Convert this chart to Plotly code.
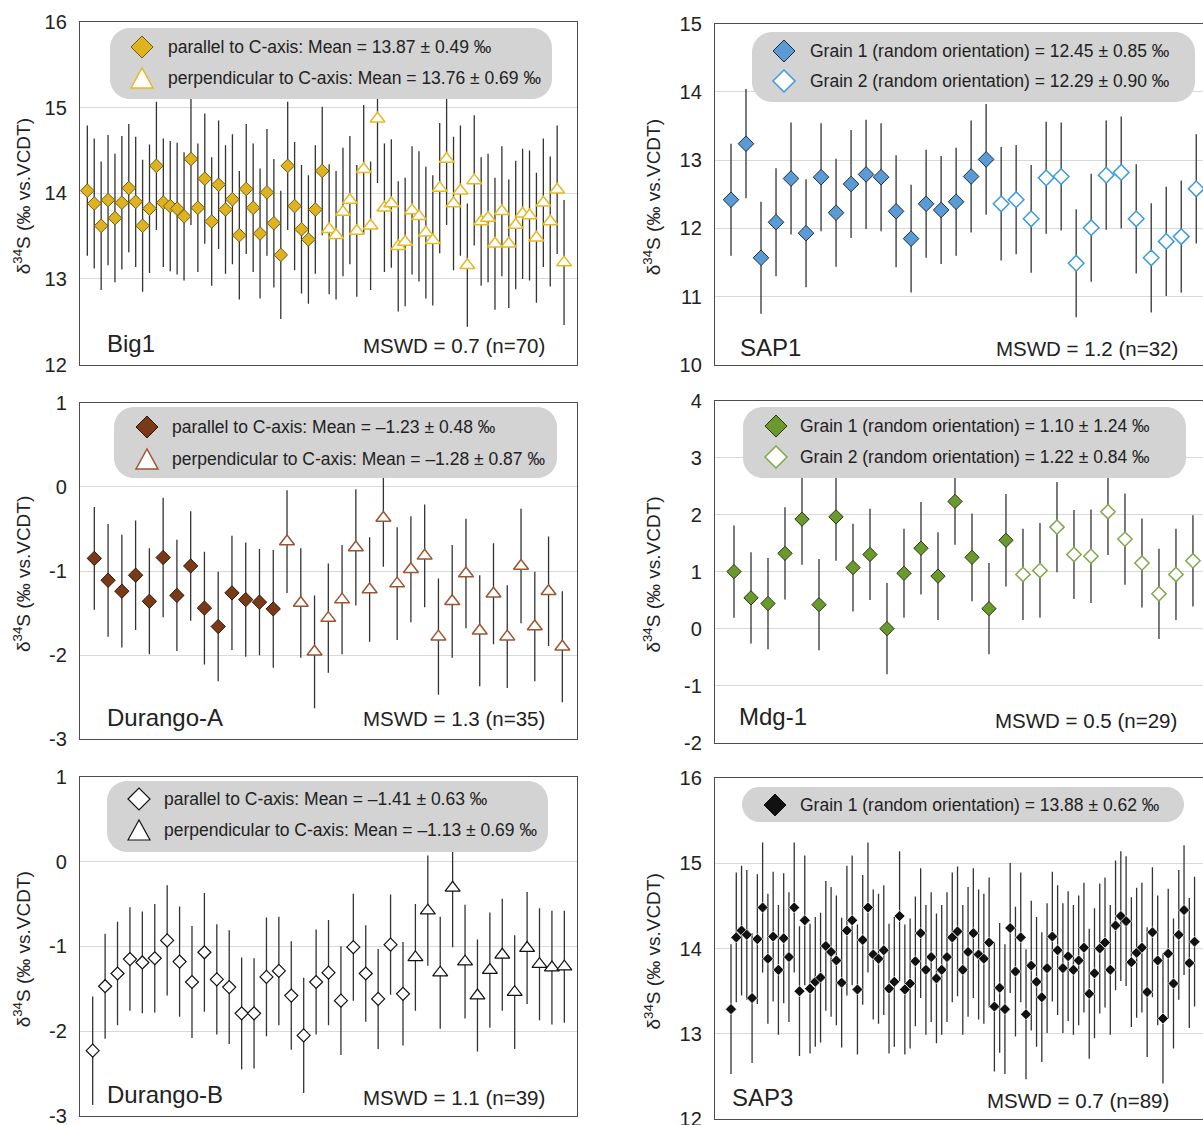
import plotly.graph_objects as go

W, H = 1203, 1125
FONT = "Liberation Sans, Arial, sans-serif"
TXT = "#222222"

# ---------------- data: delta34S per analysis (permil vs. VCDT) ----------------
# Big1
big1_parallel = [14.03, 13.88, 13.62, 13.92, 13.71, 13.89, 14.06, 13.90, 13.62, 13.82,
                 14.32, 13.89, 13.85, 13.82, 13.73, 14.40, 13.83, 14.17, 13.67, 14.10,
                 13.81, 13.93, 13.51, 14.05, 13.83, 13.53, 14.01, 13.65, 13.28, 14.32,
                 13.85, 13.58, 13.46, 13.81, 14.26]
big1_parallel_err = [0.76, 0.76, 0.75, 0.76, 0.75, 0.78, 0.75, 0.76, 0.77, 0.75,
                     0.75, 0.75, 0.76, 0.77, 0.75, 0.77, 0.75, 0.76, 0.75, 0.75,
                     0.75, 0.76, 0.75, 0.76, 0.75, 0.76, 0.74, 0.75, 0.75, 0.75,
                     0.75, 0.75, 0.75, 0.75, 0.75]
big1_perpendicular = [13.58, 13.51, 13.78, 13.92, 13.56, 14.28, 13.62, 14.87, 13.83, 13.88,
                      13.38, 13.43, 13.80, 13.73, 13.54, 13.45, 14.06, 14.40, 13.88, 14.03,
                      13.16, 14.15, 13.67, 13.71, 13.41, 13.79, 13.41, 13.63, 13.76, 13.74,
                      13.48, 13.89, 13.67, 14.04, 13.19]
big1_perpendicular_err = [0.76, 0.75, 0.75, 0.75, 0.77, 0.75, 0.75, 0.75, 0.75, 0.75,
                          0.76, 0.75, 0.75, 0.76, 0.77, 0.76, 0.76, 0.77, 0.78, 0.76,
                          0.72, 0.76, 0.75, 0.75, 0.77, 0.76, 0.75, 0.75, 0.76, 0.76,
                          0.76, 0.75, 0.76, 0.75, 0.73]
big1_legend = ["parallel to C-axis: Mean = 13.87 ± 0.49 ‰",
               "perpendicular to C-axis: Mean = 13.76 ± 0.69 ‰"]
big1_mswd = "MSWD = 0.7 (n=70)"

# SAP1
sap1_grain1 = [12.42, 13.24, 11.57, 12.09, 12.73, 11.93, 12.75, 12.23, 12.65, 12.79,
               12.75, 12.25, 11.85, 12.36, 12.27, 12.39, 12.76, 13.01]
sap1_grain1_err = [0.82, 0.80, 0.82, 0.79, 0.82, 0.79, 0.79, 0.79, 0.79, 0.80,
                   0.79, 0.82, 0.79, 0.79, 0.79, 0.79, 0.82, 0.81]
sap1_grain2 = [12.36, 12.42, 12.14, 12.74, 12.76, 11.49, 12.01, 12.78, 12.82, 12.14,
               11.57, 11.81, 11.88, 12.58]
sap1_grain2_err = [0.83, 0.80, 0.79, 0.82, 0.79, 0.79, 0.79, 0.80, 0.82, 0.80,
                   0.80, 0.80, 0.82, 0.80]
sap1_legend = ["Grain 1 (random orientation) = 12.45 ± 0.85 ‰",
               "Grain 2 (random orientation) = 12.29 ± 0.90 ‰"]
sap1_mswd = "MSWD = 1.2 (n=32)"

# Durango-A
durA_parallel = [-0.85, -1.11, -1.24, -1.05, -1.36, -0.84, -1.29, -0.94, -1.44, -1.66,
                 -1.26, -1.34, -1.37, -1.45]
durA_parallel_err = [0.61, 0.67, 0.67, 0.65, 0.63, 0.71, 0.66, 0.65, 0.67, 0.65,
                     0.68, 0.68, 0.63, 0.70]
durA_perpendicular = [-0.65, -1.38, -1.96, -1.56, -1.34, -0.72, -1.22, -0.37, -1.15, -0.98,
                      -0.82, -1.78, -1.36, -1.03, -1.71, -1.27, -1.78, -0.94, -1.66, -1.24,
                      -1.90]
durA_perpendicular_err = [0.61, 0.65, 0.67, 0.65, 0.65, 0.69, 0.62, 0.58, 0.67, 0.63,
                          0.61, 0.69, 0.67, 0.65, 0.66, 0.60, 0.61, 0.68, 0.65, 0.65,
                          0.66]
durA_legend = ["parallel to C-axis: Mean = \u20131.23 ± 0.48 ‰",
               "perpendicular to C-axis: Mean = \u20131.28 ± 0.87 ‰"]
durA_mswd = "MSWD = 1.3 (n=35)"

# Mdg-1
mdg_grain1 = [1.00, 0.54, 0.44, 1.32, 1.92, 0.42, 1.96, 1.07, 1.30, 0.00,
              0.97, 1.41, 0.92, 2.23, 1.25, 0.35, 1.55]
mdg_grain1_err = [0.81, 0.80, 0.80, 0.81, 0.80, 0.80, 0.77, 0.77, 0.80, 0.80,
                  0.78, 0.81, 0.77, 0.76, 0.77, 0.80, 0.81]
mdg_grain2 = [0.95, 1.02, 1.78, 1.30, 1.27, 2.05, 1.57, 1.15, 0.61, 0.95, 1.19]
mdg_grain2_err = [0.80, 0.83, 0.79, 0.78, 0.82, 0.76, 0.80, 0.78, 0.79, 0.80, 0.80]
mdg_legend = ["Grain 1 (random orientation) = 1.10 ± 1.24 ‰",
              "Grain 2 (random orientation) = 1.22 ± 0.84 ‰"]
mdg_mswd = "MSWD = 0.5 (n=29)"

# Durango-B
durB_parallel = [-2.23, -1.47, -1.32, -1.15, -1.19, -1.14, -0.93, -1.18, -1.42, -1.07,
                 -1.39, -1.48, -1.79, -1.79, -1.36, -1.29, -1.58, -2.05, -1.42, -1.31,
                 -1.64, -1.01, -1.32, -1.62, -0.98, -1.56]
durB_parallel_err = [0.64, 0.62, 0.61, 0.61, 0.60, 0.64, 0.65, 0.65, 0.66, 0.70,
                     0.65, 0.67, 0.66, 0.65, 0.70, 0.64, 0.64, 0.68, 0.62, 0.62,
                     0.64, 0.63, 0.57, 0.59, 0.59, 0.61]
durB_perpendicular = [-1.13, -0.58, -1.31, -0.31, -1.18, -1.58, -1.28, -1.10, -1.54, -1.02,
                      -1.21, -1.25, -1.24]
durB_perpendicular_err = [0.63, 0.65, 0.66, 0.70, 0.67, 0.66, 0.68, 0.66, 0.67, 0.66,
                          0.66, 0.67, 0.66]
durB_legend = ["parallel to C-axis: Mean = \u20131.41 ± 0.63 ‰",
               "perpendicular to C-axis: Mean = \u20131.13 ± 0.69 ‰"]
durB_mswd = "MSWD = 1.1 (n=39)"

# SAP3 (single grain, uniform analytical uncertainty)
sap3_grain1 = [13.29, 14.13, 14.21, 14.16, 13.42, 14.11, 14.48, 13.88, 14.14, 13.75,
               14.12, 13.90, 14.48, 13.50, 14.33, 13.53, 13.61, 13.66, 14.03, 13.96,
               13.86, 13.60, 14.21, 14.33, 13.52, 14.10, 14.48, 13.93, 13.88, 13.98,
               13.53, 13.61, 14.38, 13.52, 13.59, 13.85, 14.18, 13.75, 13.90, 13.65,
               13.75, 13.90, 14.13, 14.20, 13.75, 13.96, 14.18, 13.93, 13.88, 14.07,
               13.32, 13.54, 13.29, 14.24, 13.73, 14.13, 13.23, 13.80, 13.61, 13.43,
               13.77, 14.14, 13.98, 13.77, 13.91, 13.75, 13.86, 14.01, 13.47, 13.71,
               14.00, 14.07, 13.75, 14.27, 14.38, 14.32, 13.84, 13.95, 14.01, 13.49,
               14.19, 13.86, 13.18, 13.94, 13.59, 14.16, 14.45, 13.83, 14.08]
sap3_grain1_err = 0.76
sap3_legend = ["Grain 1 (random orientation) = 13.88 ± 0.62 ‰"]
sap3_mswd = "MSWD = 0.7 (n=89)"

# ---------------- styles ----------------
ERR_COLOR = "#333333"
GOLD, GOLD_EDGE, GOLD_OPEN = "#DFB21F", "#6e5a12", "#E6B822"
BLUE, BLUE_EDGE, BLUE_OPEN = "#5B9BD5", "#1d2b3a", "#3C9BDC"
BROWN, BROWN_EDGE, BROWN_OPEN = "#7B3A17", "#2b1408", "#9B5531"
GREEN, GREEN_EDGE, GREEN_OPEN = "#6A9A2E", "#26350f", "#80A84A"


def filled(color, edge, symbol="diamond", size=10):
    return dict(symbol=symbol, size=size, color=color, line=dict(color=edge, width=1))


def hollow(edge, symbol="diamond", size=10, lw=1.5):
    return dict(symbol=symbol, size=size, color="white", line=dict(color=edge, width=lw))


panels = [
    dict(label="Big1", mswd=big1_mswd, legend=big1_legend,
         series=[(big1_parallel, big1_parallel_err, filled(GOLD, GOLD_EDGE, size=10.5)),
                 (big1_perpendicular, big1_perpendicular_err, hollow(GOLD_OPEN, "triangle-up", 13))],
         keys=[("diamond", GOLD, GOLD_EDGE, 1.0), ("triangle", "white", GOLD_OPEN, 1.5)],
         plot=(80, 22, 576.5, 364.5), yrange=(12, 16), xrange=(-0.06, 71.8), left=True,
         box=(110, 28, 552, 99), key_x=142, rows=(47, 78), text_x=166,
         label_pos=(105, 343), mswd_pos=(547, 345)),
    dict(label="SAP1", mswd=sap1_mswd, legend=sap1_legend,
         series=[(sap1_grain1, sap1_grain1_err, filled(BLUE, BLUE_EDGE, size=12)),
                 (sap1_grain2, sap1_grain2_err, hollow(BLUE_OPEN, size=12))],
         keys=[("diamond", BLUE, BLUE_EDGE, 1.0), ("diamond", "white", BLUE_OPEN, 1.5)],
         plot=(715, 23.5, 1203, 365), yrange=(10, 15), xrange=(-0.066, 32.45), left=False,
         box=(752, 32, 1195, 102), key_x=784, rows=(51, 81), text_x=808,
         label_pos=(738, 347), mswd_pos=(1180, 349)),
    dict(label="Durango-A", mswd=durA_mswd, legend=durA_legend,
         series=[(durA_parallel, durA_parallel_err, filled(BROWN, BROWN_EDGE, size=11)),
                 (durA_perpendicular, durA_perpendicular_err, hollow(BROWN_OPEN, "triangle-up", 13))],
         keys=[("diamond", BROWN, BROWN_EDGE, 1.0), ("triangle", "white", BROWN_OPEN, 1.5)],
         plot=(80, 402.7, 576.5, 739.3), yrange=(-3, 1), xrange=(-0.04, 36.03), left=True,
         box=(114, 407, 557, 478), key_x=147, rows=(427, 459), text_x=170,
         label_pos=(105, 717), mswd_pos=(547, 718)),
    dict(label="Mdg-1", mswd=mdg_mswd, legend=mdg_legend,
         series=[(mdg_grain1, mdg_grain1_err, filled(GREEN, GREEN_EDGE, size=11)),
                 (mdg_grain2, mdg_grain2_err, hollow(GREEN_OPEN, size=11))],
         keys=[("diamond", GREEN, GREEN_EDGE, 1.0), ("diamond", "white", GREEN_OPEN, 1.5)],
         plot=(715, 400.5, 1203, 742.7), yrange=(-2, 4), xrange=(-0.118, 28.59), left=False,
         box=(743, 407, 1186, 478), key_x=776, rows=(426, 457), text_x=798,
         label_pos=(737, 716), mswd_pos=(1179, 720)),
    dict(label="Durango-B", mswd=durB_mswd, legend=durB_legend,
         series=[(durB_parallel, durB_parallel_err, hollow("#111111", size=10, lw=1.2)),
                 (durB_perpendicular, durB_perpendicular_err, hollow("#111111", "triangle-up", 13, lw=1.2))],
         keys=[("diamond", "white", "#111111", 1.2), ("triangle", "white", "#111111", 1.2)],
         plot=(80, 776.7, 576.5, 1116), yrange=(-3, 1), xrange=(-0.023, 39.98), left=True,
         box=(107, 781, 548, 852), key_x=139, rows=(799, 830), text_x=162,
         label_pos=(105, 1094), mswd_pos=(547, 1097)),
    dict(label="SAP3", mswd=sap3_mswd, legend=sap3_legend,
         series=[(sap3_grain1, sap3_grain1_err, dict(symbol="diamond", size=8.5, color="#111111",
                                                     line=dict(color="white", width=0.7)))],
         keys=[("diamond", "#111111", "#111111", 1.0)],
         plot=(715, 777.7, 1203, 1119.3), yrange=(12, 16), xrange=(-2.04, 90.6), left=False,
         box=(742, 787, 1184, 822), key_x=775, rows=(805,), text_x=798,
         label_pos=(730, 1097), mswd_pos=(1171, 1100)),
]


def X(px):
    return px / W


def Y(py):
    return 1 - py / H


def rounded_rect(x0, y0, x1, y1, r):
    k = 0.5523 * r
    p = [
        f"M {X(x0 + r)},{Y(y0)}",
        f"L {X(x1 - r)},{Y(y0)}",
        f"C {X(x1 - r + k)},{Y(y0)} {X(x1)},{Y(y0 + r - k)} {X(x1)},{Y(y0 + r)}",
        f"L {X(x1)},{Y(y1 - r)}",
        f"C {X(x1)},{Y(y1 - r + k)} {X(x1 - r + k)},{Y(y1)} {X(x1 - r)},{Y(y1)}",
        f"L {X(x0 + r)},{Y(y1)}",
        f"C {X(x0 + r - k)},{Y(y1)} {X(x0)},{Y(y1 - r + k)} {X(x0)},{Y(y1 - r)}",
        f"L {X(x0)},{Y(y0 + r)}",
        f"C {X(x0)},{Y(y0 + r - k)} {X(x0 + r - k)},{Y(y0)} {X(x0 + r)},{Y(y0)}",
        "Z",
    ]
    return " ".join(p)


def key_path(kind, cx, cy):
    if kind == "diamond":
        a = 11
        return (f"M {X(cx - a)},{Y(cy)} L {X(cx)},{Y(cy - a)} "
                f"L {X(cx + a)},{Y(cy)} L {X(cx)},{Y(cy + a)} Z")
    w, h = 22, 20
    return (f"M {X(cx - w / 2)},{Y(cy + h / 2)} L {X(cx)},{Y(cy - h / 2)} "
            f"L {X(cx + w / 2)},{Y(cy + h / 2)} Z")


fig = go.Figure()
shapes, annotations = [], []
layout_axes = {}

for i, p in enumerate(panels, start=1):
    xa, ya = f"x{i}", f"y{i}"
    start = 1
    for values, err, marker in p["series"]:
        xs = list(range(start, start + len(values)))
        start += len(values)
        if isinstance(err, (int, float)):
            ebar = dict(type="constant", value=err)
        else:
            ebar = dict(type="data", array=err)
        ebar.update(visible=True, color=ERR_COLOR, thickness=1.3, width=0)
        fig.add_trace(go.Scatter(x=xs, y=values, mode="markers", marker=marker,
                                 error_y=ebar, xaxis=xa, yaxis=ya, showlegend=False,
                                 hoverinfo="skip", cliponaxis=False))

    x0, y0, x1, y1 = p["plot"]
    lo, hi = p["yrange"]
    ticks = list(range(lo, hi + 1))
    sfx = "" if i == 1 else str(i)
    layout_axes[f"xaxis{sfx}"] = dict(
        domain=[X(x0), X(x1)], range=list(p["xrange"]), anchor=ya, automargin=False,
        showgrid=False, zeroline=False, showticklabels=False, ticks="",
        showline=True, linecolor="#4d4d4d", linewidth=1.4, mirror=True, fixedrange=True)
    layout_axes[f"yaxis{sfx}"] = dict(
        domain=[Y(y1), Y(y0)], range=[lo, hi], anchor=xa, automargin=False,
        tickmode="array", tickvals=ticks, ticktext=[str(t) for t in ticks],
        ticklabeloverflow="allow",
        showgrid=True, gridcolor="#d9d9d9", gridwidth=1, zeroline=False,
        showline=True, linecolor="#4d4d4d", linewidth=1.4, mirror=p["left"],
        ticks="", ticklabelstandoff=8, tickfont=dict(family=FONT, size=20, color=TXT),
        fixedrange=True)

    # legend panel
    bx0, by0, bx1, by1 = p["box"]
    r = min(20, (by1 - by0) / 2)
    shapes.append(dict(type="path", xref="paper", yref="paper", layer="above",
                       path=rounded_rect(bx0, by0, bx1, by1, r),
                       fillcolor="#d3d3d3", line=dict(width=0)))
    for (kind, fill, edge, lw), ry, text in zip(p["keys"], p["rows"], p["legend"]):
        shapes.append(dict(type="path", xref="paper", yref="paper", layer="above",
                           path=key_path(kind, p["key_x"], ry),
                           fillcolor=fill, line=dict(color=edge, width=lw)))
        annotations.append(dict(x=X(p["text_x"]), y=Y(ry), xref="paper", yref="paper",
                                text=text, showarrow=False, xanchor="left", yanchor="middle",
                                font=dict(family=FONT, size=17.5, color=TXT)))

    lx, ly = p["label_pos"]
    annotations.append(dict(x=X(lx), y=Y(ly), xref="paper", yref="paper", text=p["label"],
                            showarrow=False, xanchor="left", yanchor="middle",
                            font=dict(family=FONT, size=24, color=TXT)))
    mx, my = p["mswd_pos"]
    annotations.append(dict(x=X(mx), y=Y(my), xref="paper", yref="paper", text=p["mswd"],
                            showarrow=False, xanchor="right", yanchor="middle",
                            font=dict(family=FONT, size=20.5, color=TXT)))
    tx = 22 if p["left"] else 652
    annotations.append(dict(x=X(tx), y=Y((y0 + y1) / 2 + 3), xref="paper", yref="paper",
                            text="δ<sup>34</sup>S (‰ vs.VCDT)", textangle=-90,
                            showarrow=False, xanchor="center", yanchor="middle",
                            font=dict(family=FONT, size=19, color=TXT)))

fig.update_layout(width=W, height=H, margin=dict(l=0, r=0, t=0, b=0, autoexpand=False),
                  paper_bgcolor="white", plot_bgcolor="white",
                  shapes=shapes, annotations=annotations, showlegend=False,
                  **layout_axes)

# the figure fills the page edge to edge
fig.write_html("out.html", config={"displayModeBar": False},
               post_script="document.body.style.margin='0px';"
                           "document.body.style.overflow='hidden';")
